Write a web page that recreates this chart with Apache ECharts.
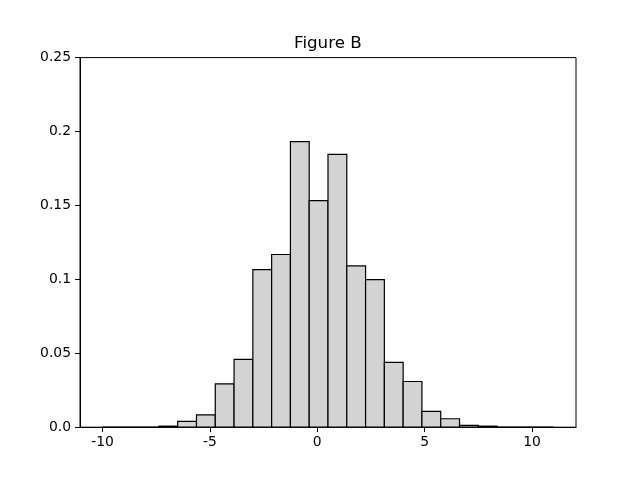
<!DOCTYPE html>
<html>
<head>
<meta charset="utf-8">
<script src="https://cdn.jsdelivr.net/npm/echarts@6/dist/echarts.min.js"></script>
<style>
html, body { margin: 0; padding: 0; background: #fff; }
#main { width: 640px; height: 480px; }
</style>
</head>
<body>
<div id="main"></div>
<script>
// bin edges of the histogram (24 bins, width 0.875)
var binEdges = [-10, -9.125, -8.25, -7.375, -6.5, -5.625, -4.75, -3.875, -3, -2.125, -1.25, -0.375,
	0.5, 1.375, 2.25, 3.125, 4, 4.875, 5.75, 6.625, 7.5, 8.375, 9.25, 10.125, 11];
// density per bin
var density = [0, 0, 0, 0.0007, 0.0039, 0.0084, 0.0293, 0.0459, 0.1066, 0.1168, 0.1932, 0.1532,
	0.1845, 0.1091, 0.0998, 0.0439, 0.0309, 0.0107, 0.0057, 0.0012, 0.0007, 0, 0, 0];
var xTicks = [-10, -5, 0, 5, 10];
var yTicks = [0, 0.05, 0.1, 0.15, 0.2, 0.25];

var bars = [];
for (var i = 0; i < density.length; i++) {
	bars.push([binEdges[i], binEdges[i + 1], density[i]]);
}

var myChart = echarts.init(document.getElementById('main'));
var font = 'DejaVu Sans';
var option = {
	animation: false,
	backgroundColor: '#fff',
	title: {
		text: 'Figure B',
		left: 294,
		top: 35,
		padding: 0,
		textStyle: { fontFamily: font, fontSize: 16.7, fontWeight: 'normal', color: '#000' }
	},
	grid: {
		left: 80, right: 64, top: 57.6, bottom: 52.8,
		show: true, borderColor: '#000', borderWidth: 1, backgroundColor: 'transparent'
	},
	xAxis: {
		type: 'value',
		min: -11.05,
		max: 12.05,
		splitLine: { show: false },
		axisLine: { show: true, onZero: false, lineStyle: { color: '#000', width: 1 } },
		axisTick: { show: true, length: 4.9, customValues: xTicks, lineStyle: { color: '#000' } },
		axisLabel: {
			customValues: xTicks,
			margin: 8,
			fontFamily: font, fontSize: 13.9, color: '#000'
		}
	},
	yAxis: {
		type: 'value',
		min: 0,
		max: 0.25,
		interval: 0.05,
		splitLine: { show: false },
		axisLine: { show: true, onZero: false, lineStyle: { color: '#000', width: 1 } },
		axisTick: { show: true, length: 4.9, lineStyle: { color: '#000' } },
		axisLabel: {
			margin: 9,
			fontFamily: font, fontSize: 13.9, color: '#000',
			formatter: function (v) {
				if (v === 0) return '0.0';
				return String(parseFloat(v.toFixed(2)));
			}
		}
	},
	series: [{
		type: 'custom',
		data: bars,
		renderItem: function (params, api) {
			var p0 = api.coord([api.value(0), 0]);
			var p1 = api.coord([api.value(1), api.value(2)]);
			return {
				type: 'rect',
				shape: { x: p0[0], y: p1[1], width: p1[0] - p0[0], height: p0[1] - p1[1] },
				style: { fill: '#d3d3d3', stroke: '#000', lineWidth: 1.2 }
			};
		}
	}]
};
myChart.setOption(option);
</script>
</body>
</html>
